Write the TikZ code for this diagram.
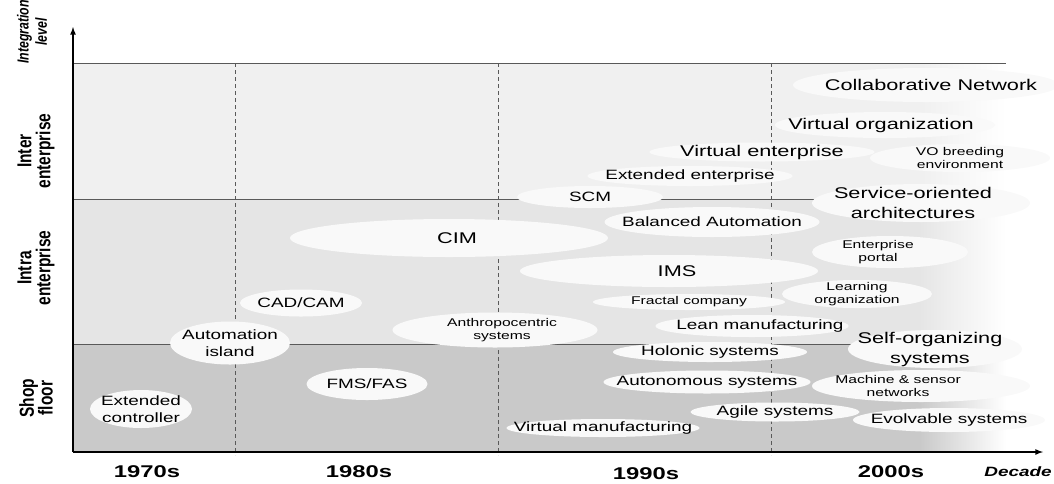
\documentclass[tikz,border=0pt]{standalone}
\usepackage{fontspec}
\setmainfont{Liberation Sans}
\newfontfamily\widesans[FakeStretch=1.4]{Liberation Sans}
\usetikzlibrary{shapes.geometric}

\definecolor{interband}{gray}{0.94}
\definecolor{intraband}{gray}{0.9}
\definecolor{shopband}{gray}{0.79}
\definecolor{bubblefill}{gray}{0.975}
\definecolor{gridline}{gray}{0.35}

\newcommand{\bigtxt}{\widesans\fontsize{15.5}{20}\selectfont}
\newcommand{\midtxt}{\widesans\fontsize{13.5}{16.5}\selectfont}
\newcommand{\smalltxt}{\widesans\fontsize{11.2}{13.5}\selectfont}

\begin{document}
\begin{tikzpicture}[x=1pt, y=-1pt,
    bubble/.style={ellipse, fill=bubblefill, inner sep=0pt},
    bigtext/.style={font=\bigtxt, align=center},
    midtext/.style={font=\midtxt, align=center},
    smalltext/.style={font=\smalltxt, align=center},
    levellabel/.style={rotate=90, yscale=1.3, inner sep=1pt, align=center, font=\bfseries\fontsize{15.5}{14.5}\selectfont},
    decadelabel/.style={font=\widesans\bfseries\fontsize{17}{20}\selectfont}]
    \useasboundingbox (0,0) rectangle (1054,483);

    % bands, fading out to the right
    \fill[interband] (73,63) rectangle (920,199);
    \shade[left color=interband, right color=white] (920,63) rectangle (1006,199);
    \fill[intraband] (73,199) rectangle (920,344);
    \shade[left color=intraband, right color=white] (920,199) rectangle (1006,344);
    \fill[shopband] (73,344) rectangle (920,452);
    \shade[left color=shopband, right color=white] (920,344) rectangle (1006,452);

    % level lines
    \draw[gridline, line width=0.8pt] (73,63) -- (1006,63);
    \draw[gridline, line width=0.8pt] (73,199) -- (1006,199);
    \draw[gridline, line width=0.8pt] (73,344) -- (1006,344);

    % decade borders
    \foreach \xd in {235,498,771}{%
        \draw[gridline, line width=0.8pt, dash pattern=on 4pt off 3pt] (\xd,63) -- (\xd,455);
    }

    % axes
    \coordinate (o) at (73,452);
    \coordinate (ytop) at (73,27);
    \coordinate (xend) at (1043,452);
    \draw[line width=1.6pt, -latex] (o) -- (ytop);
    \draw[line width=1.6pt, -latex] (o) -- (xend);

    % level labels
    \node[levellabel, font=\bfseries\itshape\fontsize{12.3}{14}\selectfont] (lvl) at (32,32) {Integration\\level};
    \node[levellabel] (inter) at (36,151) {Inter\\enterprise};
    \node[levellabel] (intra) at (36,268) {Intra\\enterprise};
    \node[levellabel] (shop) at (36,398) {Shop\\floor};

    % decade labels
    \node[decadelabel] (d70) at (147,472) {1970s};
    \node[decadelabel] (d80) at (359,472) {1980s};
    \node[decadelabel] (d90) at (646,474) {1990s};
    \node[decadelabel] (d00) at (891,472) {2000s};
    \node[decadelabel, font=\widesans\bfseries\itshape\fontsize{13.5}{16}\selectfont] (dec) at (1018,472) {Decade};

    % inter enterprise
    \node[bubble, minimum width=266pt, minimum height=34pt, label={[bigtext, xshift=5pt]center:Collaborative Network}] (colnet) at (926,85) {};
    \node[bubble, minimum width=220pt, minimum height=26pt, label={[bigtext, xshift=-4pt]center:Virtual organization}] (virorg) at (885,125) {};
    \node[bubble, minimum width=180pt, minimum height=28pt, label={[smalltext]center:VO breeding\\environment}] (vobreed) at (960,158) {};
    \node[bubble, minimum width=225pt, minimum height=19pt, label={[bigtext]center:Virtual enterprise}] (virent) at (762,152) {};
    \node[bubble, minimum width=205pt, minimum height=20pt, label={[midtext]center:Extended enterprise}] (extent) at (690,176) {};
    \node[bubble, minimum width=146pt, minimum height=22pt, label={[midtext]center:SCM}] (scm) at (590,197) {};
    \node[bubble, minimum width=218pt, minimum height=38pt, label={[bigtext, xshift=-8pt]center:Service-oriented\\architectures}] (soa) at (921,203) {};

    % intra enterprise
    \node[bubble, minimum width=215pt, minimum height=30pt, label={[midtext]center:Balanced Automation}] (balaut) at (712,222) {};
    \node[bubble, minimum width=318pt, minimum height=38pt, label={[bigtext, xshift=8pt]center:CIM}] (cim) at (449,238) {};
    \node[bubble, minimum width=156pt, minimum height=32pt, label={[smalltext, xshift=-12pt]center:Enterprise\\portal}] (portal) at (890,252) {};
    \node[bubble, minimum width=298pt, minimum height=32pt, label={[bigtext, xshift=8pt]center:IMS}] (ims) at (669,271) {};
    \node[bubble, minimum width=150pt, minimum height=28pt, label={[smalltext]center:Learning\\organization}] (learnorg) at (857,294) {};
    \node[bubble, minimum width=192pt, minimum height=16pt, label={[smalltext]center:Fractal company}] (fractal) at (689,302) {};
    \node[bubble, minimum width=122pt, minimum height=27pt, label={[midtext]center:CAD/CAM}] (cadcam) at (301,303) {};
    \node[bubble, minimum width=205pt, minimum height=35pt, label={[smalltext, xshift=7pt]center:Anthropocentric\\systems}] (anthro) at (495,330) {};
    \node[bubble, minimum width=193pt, minimum height=22pt, label={[midtext, xshift=8pt]center:Lean manufacturing}] (lean) at (752,326) {};
    \node[bubble, minimum width=120pt, minimum height=43pt, label={[midtext]center:Automation\\island}] (autoisl) at (230,343) {};
    \node[bubble, minimum width=174pt, minimum height=38pt, label={[bigtext, xshift=-5pt]center:Self-organizing\\systems}] (selforg) at (935,349) {};

    % shop floor
    \node[bubble, minimum width=194pt, minimum height=20pt, label={[midtext]center:Holonic systems}] (holonic) at (710,352) {};
    \node[bubble, minimum width=121pt, minimum height=32pt, label={[midtext]center:FMS/FAS}] (fms) at (367,384) {};
    \node[bubble, minimum width=207pt, minimum height=23pt, label={[midtext]center:Autonomous systems}] (autonom) at (707,382) {};
    \node[bubble, minimum width=218pt, minimum height=32pt, label={[smalltext, xshift=-23pt]center:Machine \& sensor\\networks}] (machine) at (921,386) {};
    \node[bubble, minimum width=102pt, minimum height=38pt, label={[midtext]center:Extended\\controller}] (extctrl) at (141,409) {};
    \node[bubble, minimum width=169pt, minimum height=19pt, label={[midtext]center:Agile systems}] (agile) at (775,412) {};
    \node[bubble, minimum width=192pt, minimum height=24pt, label={[midtext]center:Evolvable systems}] (evolv) at (949,420) {};
    \node[bubble, minimum width=193pt, minimum height=18pt, label={[midtext]center:Virtual manufacturing}] (virman) at (603,428) {};
\end{tikzpicture}
\end{document}
